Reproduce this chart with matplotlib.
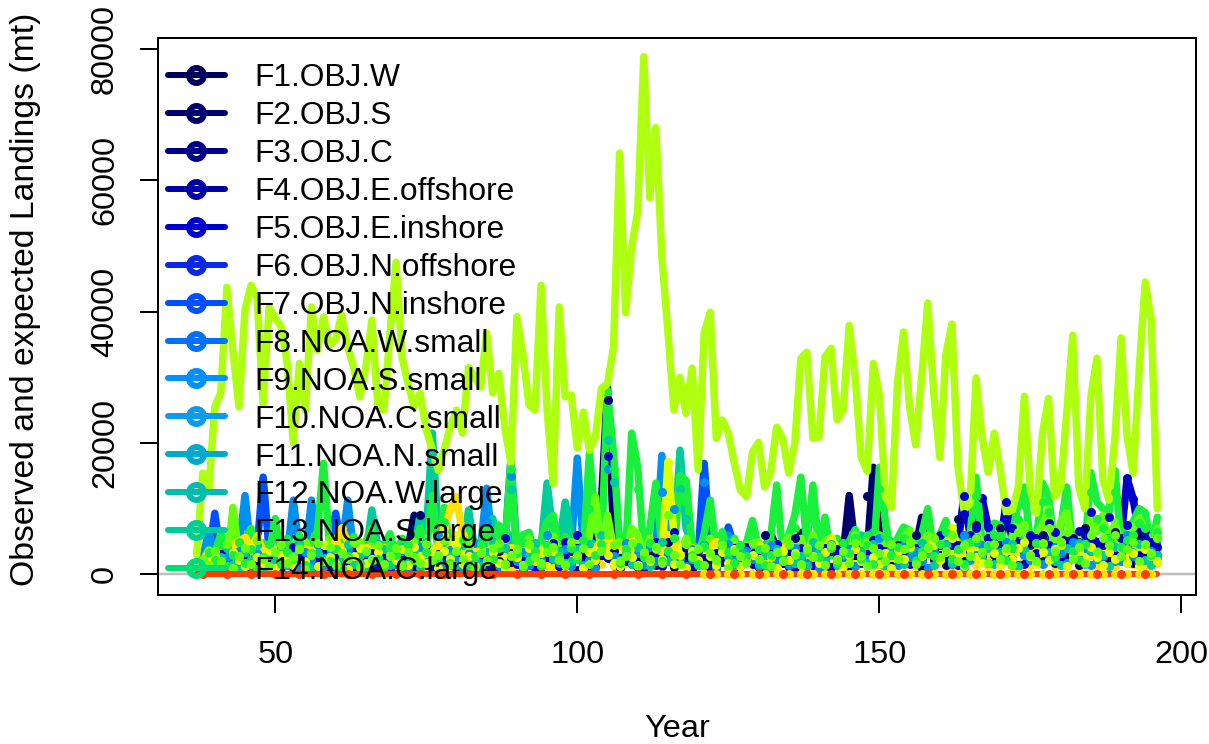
import numpy as np
import matplotlib
matplotlib.use("Agg")
import matplotlib.pyplot as plt
from matplotlib.lines import Line2D

plt.rcParams["font.family"] = ["Liberation Sans", "DejaVu Sans"]

years = np.arange(37, 197)

# all landings below are in units of 100 mt, one row per decade (37-39, 40-49, ...)
main_line = [
    30, 154, 128,
    255, 276, 437, 340, 255, 402, 440, 420, 260, 407,
    390, 377, 320, 200, 321, 250, 407, 341, 392, 349,
    357, 395, 346, 315, 270, 315, 387, 255, 250, 367,
    475, 330, 290, 255, 276, 220, 190, 158, 190, 225,
    250, 215, 315, 300, 285, 367, 276, 306, 224, 169,
    392, 335, 258, 250, 440, 250, 138, 407, 270, 273,
    192, 247, 189, 209, 283, 290, 346, 641, 398, 498,
    552, 788, 573, 680, 483, 369, 250, 300, 245, 314,
    159, 367, 399, 207, 235, 215, 169, 128, 118, 186,
    201, 133, 155, 224, 207, 154, 200, 329, 338, 207,
    209, 331, 344, 235, 250, 379, 300, 178, 157, 321,
    273, 118, 102, 291, 369, 255, 197, 300, 413, 276,
    178, 334, 381, 163, 98, 108, 299, 209, 155, 215,
    159, 94, 98, 133, 271, 128, 93, 215, 268, 118,
    133, 245, 364, 133, 100, 270, 329, 143, 113, 209,
    360, 209, 154, 311, 445, 387, 100,
]
green_line = [
    5, 20, 38,
    30, 62, 28, 45, 25, 52, 70, 22, 48, 30,
    85, 24, 55, 30, 60, 22, 48, 66, 169, 40,
    25, 60, 35, 58, 22, 50, 70, 28, 45, 62,
    30, 55, 24, 48, 70, 35, 120, 30, 102, 28,
    55, 25, 66, 35, 48, 70, 30, 75, 40, 170,
    28, 60, 64, 30, 52, 80, 90, 35, 58, 30,
    60, 35, 184, 80, 40, 280, 184, 50, 30, 215,
    163, 35, 70, 139, 40, 60, 30, 150, 143, 45,
    25, 62, 113, 35, 65, 30, 55, 25, 48, 82,
    40, 22, 55, 136, 30, 60, 90, 148, 45, 136,
    35, 87, 28, 55, 32, 50, 68, 30, 60, 25,
    163, 80, 28, 55, 72, 67, 30, 60, 100, 35,
    60, 82, 38, 50, 28, 60, 148, 45, 55, 78,
    75, 32, 60, 110, 133, 45, 55, 139, 120, 40,
    70, 133, 40, 60, 35, 155, 110, 100, 95, 158,
    45, 70, 80, 100, 94, 40, 87,
]
lime_line = [
    3, 15, 25,
    20, 42, 18, 102, 30, 15, 38, 45, 18, 40,
    22, 48, 15, 35, 18, 50, 28, 40, 15, 55,
    45, 20, 38, 15, 50, 22, 45, 18, 40, 25,
    40, 18, 35, 50, 22, 55, 28, 40, 18, 35,
    45, 20, 50, 25, 45, 18, 50, 30, 45, 22,
    40, 18, 55, 28, 40, 22, 60, 30, 45, 20,
    50, 25, 60, 118, 30, 90, 40, 50, 22, 70,
    60, 28, 55, 25, 50, 20, 50, 28, 55, 22,
    40, 20, 55, 28, 40, 20, 50, 22, 45, 28,
    50, 22, 40, 28, 45, 56, 30, 55, 25, 60,
    25, 50, 56, 28, 45, 25, 60, 28, 50, 22,
    60, 30, 45, 25, 55, 67, 28, 45, 60, 55,
    28, 60, 35, 45, 25, 60, 70, 40, 55, 30,
    65, 28, 55, 80, 70, 30, 60, 75, 100, 35,
    80, 95, 35, 55, 30, 85, 65, 90, 40, 80,
    35, 60, 70, 85, 70, 30, 70,
]
navy_line = [
    3, 10, 15,
    20, 15, 25, 20, 15, 30, 20, 25, 15, 20,
    25, 15, 20, 30, 20, 15, 25, 20, 30, 15,
    20, 25, 15, 30, 20, 25, 15, 20, 25, 15,
    20, 30, 40, 90, 30, 20, 25, 20, 30, 15,
    25, 20, 30, 25, 40, 30, 20, 25, 15, 20,
    25, 30, 20, 15, 25, 30, 20, 40, 80, 40,
    30, 25, 30, 45, 110, 285, 60, 30, 25, 20,
    30, 25, 20, 30, 25, 20, 15, 25, 30, 20,
    25, 30, 20, 25, 20, 30, 25, 20, 30, 25,
    30, 35, 62, 40, 35, 30, 35, 64, 40, 30,
    35, 30, 40, 35, 30, 120, 40, 30, 35, 163,
    60, 30, 35, 40, 30, 35, 40, 87, 50, 35,
    30, 40, 35, 30, 45, 40, 35, 45, 30, 40,
    35, 108, 50, 35, 40, 30, 35, 40, 45, 65,
    40, 35, 45, 50, 40, 35, 45, 50, 40, 45,
    50, 45, 40, 50, 45, 40, 45,
]
dkblue_line = [
    2, 8, 12,
    15, 20, 15, 20, 15, 25, 20, 15, 25, 15,
    20, 25, 15, 20, 25, 15, 20, 25, 15, 20,
    25, 20, 15, 25, 20, 15, 25, 20, 15, 25,
    20, 25, 15, 20, 25, 15, 20, 25, 15, 20,
    25, 15, 20, 25, 20, 15, 25, 20, 15, 25,
    20, 25, 15, 20, 25, 30, 25, 35, 50, 45,
    40, 30, 25, 20, 30, 25, 20, 25, 30, 20,
    25, 20, 30, 25, 20, 30, 25, 20, 25, 30,
    20, 25, 30, 25, 20, 30, 25, 30, 25, 30,
    35, 30, 40, 35, 30, 35, 30, 40, 35, 30,
    35, 40, 35, 30, 40, 35, 30, 35, 40, 35,
    40, 35, 30, 40, 35, 30, 40, 45, 35, 40,
    45, 35, 50, 45, 120, 60, 55, 116, 72, 50,
    45, 110, 70, 45, 50, 45, 55, 50, 45, 65,
    50, 55, 45, 50, 60, 55, 50, 45, 55, 60,
    55, 146, 115, 60, 55, 50, 55,
]
blue_line = [
    3, 20, 30,
    93, 30, 25, 35, 30, 25, 30, 40, 148, 35,
    30, 40, 35, 30, 40, 35, 25, 40, 30, 35,
    93, 40, 30, 35, 40, 30, 35, 40, 30, 35,
    40, 30, 35, 30, 40, 35, 30, 40, 35, 30,
    35, 40, 30, 35, 40, 45, 35, 30, 40, 174,
    35, 30, 40, 35, 30, 40, 35, 30, 40, 35,
    45, 40, 35, 30, 40, 35, 40, 30, 35, 40,
    35, 30, 40, 35, 30, 40, 35, 30, 40, 35,
    30, 169, 40, 35, 30, 72, 40, 35, 30, 40,
    35, 30, 40, 35, 30, 35, 40, 30, 35, 40,
    30, 35, 40, 35, 30, 40, 35, 30, 40, 35,
    40, 30, 35, 40, 30, 35, 40, 30, 35, 40,
    35, 40, 30, 35, 40, 30, 35, 40, 30, 35,
    40, 35, 30, 40, 35, 30, 40, 35, 40, 30,
    35, 40, 30, 35, 40, 30, 35, 40, 30, 35,
    40, 50, 60, 35, 40, 30, 35,
]
ltblue_line = [
    4, 25, 65,
    30, 25, 35, 30, 40, 120, 35, 30, 40, 30,
    35, 40, 30, 113, 35, 30, 113, 40, 30, 35,
    30, 40, 113, 35, 30, 40, 35, 30, 40, 35,
    30, 40, 35, 30, 90, 40, 35, 30, 40, 35,
    30, 40, 35, 30, 40, 131, 40, 35, 30, 40,
    35, 40, 30, 35, 40, 45, 35, 40, 60, 40,
    177, 40, 45, 40, 35, 40, 45, 35, 40, 45,
    35, 40, 45, 40, 181, 40, 35, 40, 45, 35,
    40, 45, 40, 35, 60, 60, 45, 40, 35, 40,
    45, 35, 40, 45, 35, 40, 45, 35, 40, 45,
    40, 35, 45, 40, 35, 45, 40, 55, 45, 40,
    35, 45, 40, 35, 45, 40, 35, 45, 40, 35,
    45, 40, 35, 45, 50, 45, 40, 50, 45, 40,
    45, 50, 40, 45, 50, 45, 40, 50, 45, 40,
    50, 45, 40, 50, 55, 45, 40, 50, 45, 40,
    50, 45, 40, 60, 45, 40, 50,
]
teal_line = [
    3, 20, 30,
    35, 30, 25, 35, 30, 40, 35, 30, 40, 35,
    30, 40, 35, 30, 40, 35, 30, 40, 35, 30,
    35, 40, 30, 35, 40, 30, 98, 40, 35, 30,
    40, 35, 30, 40, 90, 60, 215, 60, 40, 35,
    40, 35, 98, 40, 35, 40, 85, 40, 35, 60,
    40, 35, 40, 45, 40, 139, 60, 45, 110, 60,
    40, 45, 50, 45, 40, 50, 45, 40, 50, 45,
    40, 45, 50, 40, 45, 50, 45, 189, 70, 45,
    40, 45, 50, 45, 40, 50, 45, 40, 45, 50,
    40, 45, 50, 45, 40, 50, 45, 40, 45, 50,
    45, 40, 50, 45, 40, 50, 45, 60, 55, 65,
    50, 45, 50, 45, 40, 50, 45, 40, 50, 45,
    50, 45, 40, 50, 45, 40, 50, 45, 55, 50,
    45, 40, 50, 45, 55, 50, 45, 50, 45, 40,
    50, 45, 50, 55, 45, 50, 45, 50, 45, 50,
    45, 50, 45, 50, 55, 45, 40,
]
lemon_line = [
    2, 15, 20,
    25, 30, 35, 30, 25, 40, 30, 35, 30, 25,
    30, 35, 25, 30, 35, 30, 25, 35, 30, 25,
    30, 35, 25, 30, 35, 25, 30, 35, 30, 25,
    35, 30, 25, 35, 30, 25, 35, 30, 25, 40,
    60, 35, 30, 25, 35, 30, 25, 35, 30, 25,
    30, 35, 25, 30, 35, 25, 30, 35, 25, 30,
    35, 30, 25, 35, 30, 40, 35, 30, 25, 35,
    30, 25, 35, 30, 25, 171, 60, 35, 30, 25,
    35, 30, 25, 35, 30, 25, 35, 30, 25, 35,
    30, 25, 35, 30, 25, 35, 30, 25, 35, 30,
    25, 35, 55, 40, 30, 25, 35, 30, 25, 35,
    30, 25, 35, 30, 25, 35, 30, 25, 35, 55,
    30, 35, 70, 40, 30, 35, 40, 30, 35, 40,
    30, 35, 30, 40, 35, 30, 40, 35, 30, 35,
    40, 30, 35, 40, 30, 35, 40, 30, 35, 40,
    30, 35, 30, 40, 35, 30, 35,
]
yellow_line = [
    2, 20, 35,
    25, 30, 35, 45, 50, 56, 40, 58, 35, 30,
    35, 40, 30, 35, 40, 30, 35, 40, 45, 35,
    50, 70, 50, 35, 30, 40, 35, 30, 40, 35,
    30, 35, 40, 30, 35, 40, 30, 45, 70, 100,
    118, 60, 35, 40, 30, 35, 40, 30, 35, 40,
    30, 35, 40, 45, 35, 30, 40, 35, 30, 40,
    35, 30, 35, 40, 50, 60, 40, 35, 40, 50,
    40, 35, 30, 40, 35, 60, 40, 35, 30, 40,
    35, 30, 40, 50, 45, 35, 30, 40, 35, 30,
    35, 40, 30, 35, 40, 30, 35, 40, 30, 35,
    40, 30, 35, 40, 30, 35, 40, 30, 35, 40,
    30, 35, 40, 30, 35, 40, 30, 35, 40, 30,
    35, 40, 30, 35, 40, 30, 35, 40, 30, 35,
    40, 30, 35, 40, 30, 35, 40, 30, 35, 30,
    35, 40, 30, 35, 40, 30, 35, 40, 30, 35,
    40, 30, 35, 40, 30, 35, 40,
]
red_line = [0] * 160

# expected values, drawn as points over every line
navy_pts = [
    2, 12, 6,
    18, 9, 24, 5, 14, 30, 8, 20, 11, 26,
    7, 16, 33, 10, 22, 6, 28, 13, 19, 9,
    25, 12, 34, 7, 17, 29, 10, 21, 5, 15,
    27, 11, 36, 8, 90, 18, 24, 6, 13, 31,
    9, 20, 16, 28, 7, 23, 12, 35, 10, 19,
    26, 8, 15, 30, 11, 22, 45, 13, 38, 17,
    7, 25, 12, 20, 30, 265, 35, 10, 21, 16,
    28, 9, 33, 14, 24, 50, 11, 19, 27, 8,
    36, 15, 22, 10, 30, 17, 40, 12, 25, 33,
    9, 60, 14, 28, 18, 11, 55, 21, 34, 15,
    25, 10, 38, 19, 48, 13, 30, 22, 120, 28,
    16, 35, 12, 45, 24, 18, 60, 10, 40, 22,
    30, 14, 50, 85, 20, 36, 75, 28, 55, 18,
    70, 25, 40, 15, 34, 48, 22, 60, 30, 18,
    42, 26, 55, 14, 70, 36, 24, 50, 20, 65,
    30, 44, 18, 58, 26, 36, 30,
]
blue_pts = [
    3, 15, 25,
    8, 32, 13, 21, 10, 38, 16, 27, 6, 34,
    19, 9, 26, 42, 12, 30, 7, 24, 36, 15,
    10, 28, 18, 40, 8, 23, 33, 13, 29, 6,
    20, 37, 11, 26, 16, 44, 9, 31, 22, 14,
    35, 7, 25, 18, 39, 12, 28, 8, 55, 33,
    16, 24, 41, 10, 30, 19, 48, 13, 27, 36,
    60, 18, 32, 11, 30, 180, 26, 15, 38, 22,
    9, 34, 17, 50, 12, 29, 65, 20, 40, 14,
    26, 45, 10, 32, 19, 37, 8, 24, 42, 16,
    30, 12, 28, 46, 18, 35, 9, 26, 40, 15,
    33, 20, 11, 38, 25, 14, 44, 18, 30, 52,
    22, 36, 12, 28, 47, 16, 34, 24, 10, 40,
    60, 26, 45, 15, 92, 35, 70, 20, 55, 30,
    42, 85, 24, 48, 16, 60, 32, 20, 78, 38,
    25, 52, 34, 66, 18, 95, 44, 28, 88, 36,
    22, 75, 50, 30, 66, 26, 42,
]
ltblue_pts = [
    5, 22, 10,
    30, 14, 26, 8, 36, 18, 12, 32, 20, 6,
    28, 40, 15, 24, 10, 34, 22, 44, 13, 30,
    18, 8, 38, 25, 14, 33, 20, 46, 11, 27,
    16, 35, 9, 29, 42, 19, 24, 60, 13, 37,
    22, 10, 32, 48, 17, 80, 26, 12, 40, 150,
    20, 34, 14, 46, 24, 60, 30, 18, 38, 12,
    120, 44, 22, 10, 36, 160, 28, 16, 48, 26,
    32, 14, 42, 20, 125, 34, 100, 24, 12, 38,
    18, 140, 30, 10, 42, 46, 22, 16, 36, 24,
    12, 34, 44, 20, 30, 14, 40, 26, 18, 36,
    10, 28, 46, 22, 16, 38, 12, 32, 24, 42,
    55, 18, 30, 14, 44, 26, 36, 20, 10, 34,
    24, 46, 16, 38, 60, 22, 30, 44, 18, 36,
    26, 50, 14, 40, 30, 22, 48, 16, 34, 42,
    32, 18, 50, 24, 40, 14, 36, 28, 46, 20,
    20, 60, 28, 14, 46, 36, 24,
]
teal_pts = [
    4, 18, 30,
    12, 26, 40, 16, 8, 34, 24, 44, 10, 30,
    20, 36, 14, 28, 48, 18, 9, 33, 25, 40,
    12, 22, 46, 16, 30, 8, 60, 26, 38, 14,
    24, 42, 18, 32, 10, 50, 185, 20, 36, 28,
    14, 44, 80, 22, 12, 34, 50, 18, 40, 130,
    26, 10, 30, 48, 16, 100, 24, 36, 70, 20,
    38, 14, 46, 28, 60, 205, 140, 22, 34, 16,
    42, 26, 12, 38, 50, 20, 30, 130, 85, 24,
    14, 44, 32, 18, 40, 26, 12, 36, 22, 46,
    16, 30, 10, 38, 24, 44, 18, 28, 12, 50,
    34, 20, 42, 14, 30, 26, 55, 36, 18, 46,
    24, 12, 40, 28, 16, 38, 22, 48, 32, 14,
    26, 44, 18, 36, 10, 30, 50, 24, 40, 16,
    34, 22, 46, 12, 38, 28, 18, 44, 32, 20,
    14, 40, 26, 48, 16, 36, 24, 30, 12, 42,
    28, 18, 34, 46, 22, 14, 30,
]
green_pts = [
    6, 16, 34,
    22, 44, 12, 30, 50, 18, 38, 8, 26, 46,
    60, 16, 34, 24, 42, 14, 32, 52, 120, 20,
    38, 10, 28, 48, 18, 36, 55, 24, 12, 40,
    30, 16, 44, 22, 60, 34, 90, 26, 80, 18,
    36, 52, 14, 28, 46, 60, 24, 40, 16, 160,
    32, 50, 20, 36, 12, 44, 70, 28, 18, 40,
    24, 52, 100, 30, 46, 240, 160, 18, 38, 175,
    130, 26, 48, 105, 20, 36, 56, 120, 110, 30,
    16, 42, 90, 24, 50, 34, 18, 44, 28, 65,
    38, 14, 30, 105, 22, 46, 70, 120, 34, 105,
    26, 70, 40, 18, 48, 32, 55, 24, 44, 16,
    130, 60, 30, 42, 55, 48, 20, 36, 75, 28,
    46, 64, 24, 38, 16, 50, 120, 32, 44, 60,
    58, 22, 40, 85, 105, 30, 48, 110, 95, 26,
    50, 105, 36, 22, 46, 125, 85, 70, 56, 125,
    42, 52, 60, 78, 70, 30, 65,
]
lime_pts = [
    3, 24, 14,
    36, 20, 46, 10, 28, 40, 16, 52, 24, 12,
    34, 44, 18, 26, 38, 8, 30, 48, 20, 42,
    14, 32, 24, 50, 10, 36, 22, 44, 16, 28,
    40, 12, 34, 26, 18, 46, 22, 30, 52, 14,
    36, 24, 44, 10, 32, 20, 40, 48, 16, 28,
    38, 12, 46, 26, 18, 34, 42, 22, 14, 50,
    30, 40, 16, 70, 36, 60, 44, 20, 28, 48,
    12, 34, 24, 42, 18, 90, 30, 16, 46, 26,
    38, 14, 32, 22, 44, 10, 36, 28, 18, 48,
    24, 40, 12, 34, 20, 46, 30, 16, 38, 26,
    44, 14, 45, 22, 36, 18, 48, 28, 12, 40,
    32, 20, 46, 24, 38, 50, 16, 30, 42, 55,
    26, 36, 60, 20, 44, 28, 55, 34, 18, 46,
    24, 40, 14, 65, 75, 30, 20, 48, 70, 36,
    50, 65, 24, 42, 18, 60, 34, 55, 44, 60,
    28, 38, 50, 20, 46, 32, 55,
]
lemon_pts = [
    2, 10, 20,
    28, 16, 8, 34, 22, 12, 42, 26, 18, 36,
    10, 30, 24, 14, 38, 20, 32, 12, 44, 26,
    16, 36, 8, 28, 40, 18, 24, 34, 12, 30,
    22, 38, 14, 42, 26, 18, 32, 10, 36, 24,
    44, 16, 28, 12, 38, 22, 34, 18, 8, 30,
    26, 14, 40, 20, 32, 12, 36, 24, 16, 42,
    28, 10, 34, 22, 44, 30, 18, 12, 38, 26,
    14, 32, 20, 40, 24, 110, 16, 30, 10, 36,
    22, 42, 28, 14, 34, 18, 38, 12, 24, 30,
    44, 16, 26, 10, 36, 22, 32, 14, 40, 28,
    18, 34, 42, 24, 12, 30, 38, 20, 44, 26,
    16, 32, 10, 36, 24, 42, 18, 28, 40, 44,
    22, 34, 55, 30, 12, 38, 26, 18, 44, 32,
    14, 36, 24, 40, 50, 28, 16, 34, 22, 38,
    44, 12, 30, 36, 20, 42, 26, 14, 34, 24,
    40, 18, 32, 12, 38, 28, 20,
]
yellow_pts = [
    2, 14, 26,
    10, 22, 34, 16, 40, 12, 28, 18, 36, 9,
    24, 14, 30, 20, 10, 38, 16, 26, 12, 34,
    22, 42, 10, 18, 30, 14, 24, 36, 12, 20,
    32, 9, 26, 16, 38, 12, 22, 30, 60, 14,
    28, 18, 10, 34, 24, 12, 40, 20, 30, 9,
    16, 36, 22, 12, 28, 18, 10, 32, 24, 14,
    38, 10, 20, 30, 16, 40, 12, 26, 18, 34,
    9, 22, 30, 14, 36, 24, 10, 18, 32, 12,
    26, 16, 38, 10, 22, 30, 14, 20, 34, 12,
    24, 18, 10, 36, 28, 14, 20, 32, 9, 26,
    16, 38, 12, 22, 30, 10, 18, 34, 24, 14,
    36, 10, 20, 28, 16, 40, 12, 24, 30, 14,
    18, 34, 10, 26, 20, 38, 14, 24, 12, 32,
    18, 28, 10, 36, 22, 14, 30, 20, 38, 12,
    26, 16, 34, 10, 22, 30, 14, 24, 36, 12,
    20, 32, 16, 26, 10, 28, 18,
]

# near-zero fleets: red points every fourth year, yellow either side in later years
red_pts_years = [38, 42, 46, 50, 54, 58, 62, 66, 70, 74, 78, 82, 86, 90,
                 94, 98, 102, 106, 110, 114, 118, 122, 126, 130, 134, 138,
                 142, 146, 150, 154, 158, 162, 166, 170, 174, 178, 182, 186,
                 190, 194]
red_pts = [1] * len(red_pts_years)
yellow_low_years = [121, 123, 125, 127, 129, 131, 133, 135, 137, 139, 141, 143,
                    145, 147, 149, 151, 153, 155, 157, 159, 161, 163, 165, 167,
                    169, 171, 173, 175, 177, 179, 181, 183, 185, 187, 189, 191,
                    193, 195]
yellow_low_pts = [1] * len(yellow_low_years)

legend_labels = ["F1.OBJ.W", "F2.OBJ.S", "F3.OBJ.C", "F4.OBJ.E.offshore",
                 "F5.OBJ.E.inshore", "F6.OBJ.N.offshore", "F7.OBJ.N.inshore",
                 "F8.NOA.W.small", "F9.NOA.S.small", "F10.NOA.C.small",
                 "F11.NOA.N.small", "F12.NOA.W.large", "F13.NOA.S.large",
                 "F14.NOA.C.large"]
legend_colors = ["#00005a", "#00006e", "#000088", "#0000a8", "#0000cc", "#0a28e6",
                 "#0050ff", "#0070ff", "#0090ff", "#0a9ce8", "#00aacc", "#00bbb0",
                 "#00cc99", "#00dd77"]

NAVY = "#00006e"
DKBLUE = "#0000cc"
BLUE = "#0050ff"
LTBLUE = "#0090ee"
TEAL = "#00cc99"
GREEN = "#1af03c"
LIME = "#66ff10"
MAIN = "#aeff10"
LEMON = "#e0ff00"
YELLOW = "#ffe000"
RED = "#ff3c00"

line_series = [(navy_line, NAVY), (dkblue_line, DKBLUE), (blue_line, BLUE),
               (ltblue_line, LTBLUE), (teal_line, TEAL), (green_line, GREEN),
               (lime_line, LIME), (main_line, MAIN), (lemon_line, LEMON),
               (yellow_line, YELLOW)]
pts_series = [(yellow_pts, YELLOW), (yellow_line, YELLOW), (lemon_line, LEMON),
              (dkblue_line, DKBLUE), (navy_pts, NAVY), (blue_pts, DKBLUE),
              (ltblue_pts, LTBLUE), (teal_pts, TEAL), (lemon_pts, LEMON),
              (green_pts, GREEN), (lime_pts, LIME)]

dpi = 100
px = 72 / dpi
fig = plt.figure(figsize=(12.09, 7.44), dpi=dpi)
ax = fig.add_axes([158 / 1209, 1 - 595 / 744, (1196 - 158) / 1209, (595 - 38) / 744])

ax.axhline(0, color="#bebebe", lw=2.5 * px, zorder=1)

for vals, col in line_series:
    ax.plot(years, np.array(vals) * 100, color=col, lw=7.5 * px, zorder=2,
            solid_joinstyle="round", solid_capstyle="round")

for vals, col in pts_series:
    ax.plot(years, np.array(vals) * 100, "o", color=col, ms=9 * px, mew=0, zorder=3)

# the red fleet sits on top of the whole pile
ax.plot(years, np.array(red_line) * 100, color=RED, lw=6 * px, zorder=4,
        solid_capstyle="round")
ax.plot(yellow_low_years, np.array(yellow_low_pts) * 100, "o", color=YELLOW,
        ms=9 * px, mew=0, zorder=5)
ax.plot(red_pts_years, np.array(red_pts) * 100, "o", color=RED, ms=9 * px, mew=0, zorder=6)

ax.set_xlim(30.6, 202.4)
ax.set_ylim(-3140, 81640)
ax.set_xticks([50, 100, 150, 200])
ax.set_yticks([0, 20000, 40000, 60000, 80000])
ax.tick_params(axis="both", length=18 * px, width=2 * px, labelsize=23.4)
ax.tick_params(axis="x", pad=27 * px)
ax.tick_params(axis="y", pad=20 * px)
plt.setp(ax.get_yticklabels(), rotation=90, va="center")
for s in ax.spines.values():
    s.set_linewidth(2 * px)
ax.set_xlabel("Year", fontsize=23.4)
ax.xaxis.set_label_coords((677 - 158) / 1038, (595 - 729) / 557, transform=ax.transAxes)
ax.xaxis.label.set_va("center")
ax.set_ylabel("Observed and expected Landings (mt)", fontsize=24.3)
ax.yaxis.set_label_coords((25 - 158) / 1038, (595 - 299) / 557, transform=ax.transAxes)
ax.yaxis.label.set_va("center")

handles = [Line2D([], [], color=c, lw=6 * px, marker="o", ms=15 * px, mfc="none",
                  mew=6 * px, mec=c, solid_capstyle="round") for c in legend_colors]
leg = ax.legend(handles, legend_labels, loc="upper left", frameon=False,
                bbox_to_anchor=(10 / 1038, (595 - 63) / 557), borderpad=0, borderaxespad=0,
                fontsize=22.9, handlelength=1.79, handletextpad=0.94, labelspacing=0.25)
leg.set_zorder(10)

fig.savefig("out.png", dpi=dpi)
